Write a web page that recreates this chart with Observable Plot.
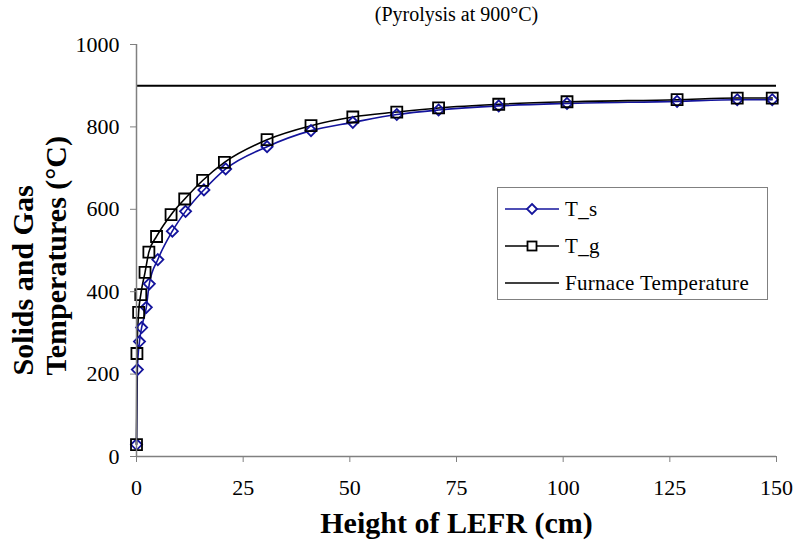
<!DOCTYPE html>
<html>
<head>
<meta charset="utf-8">
<script src="https://cdn.jsdelivr.net/npm/d3@7"></script>
<script src="https://cdn.jsdelivr.net/npm/@observablehq/plot@0.6"></script>
<style>
  html, body { margin: 0; padding: 0; background: #fff; }
  #wrap { position: relative; width: 794px; height: 541px; font-family: "Liberation Serif", "Times New Roman", serif; }
  #wrap svg text { font-family: "Liberation Serif", "Times New Roman", serif; }
  #legend { position: absolute; left: 497px; top: 187px; width: 271px; height: 113px; border: 1px solid #808080; background: #fff; box-sizing: border-box; }
  .item { position: absolute; left: 0; height: 30px; display: flex; align-items: center; }
  .item svg { margin-left: 7px; }
  .item span { margin-left: 6px; font-size: 21px; color: #000; letter-spacing: 0.3px; font-family: "Liberation Serif", "Times New Roman", serif; }
</style>
</head>
<body>
<div id="wrap"></div>
<script>
// Data
const tsX = [0, 0.2, 0.7, 1.2, 2.3, 3.0, 5.0, 8.4, 11.5, 15.8, 20.9, 30.6, 40.9, 50.7, 61.0, 70.8, 84.9, 100.9, 126.7, 140.8, 149.0];
const tsY = [29, 211, 279, 313, 362, 419, 478, 547, 595, 647, 698, 752, 791, 811, 830, 841, 851, 857, 862, 866, 866];
const tgX = [0, 0.1, 0.5, 1.0, 2.0, 2.9, 4.7, 8.1, 11.3, 15.5, 20.6, 30.6, 40.9, 50.7, 61.0, 70.8, 84.9, 100.9, 126.7, 140.8, 149.0];
const tgY = [29, 250, 350, 393, 447, 496, 534, 587, 625, 670, 714, 769, 803, 824, 836, 846, 855, 861, 866, 870, 870];
const furnaceTemp = [900];
const xTicks = [0, 25, 50, 75, 100, 125, 150];
const yTicks = [0, 200, 400, 600, 800, 1000];
const seriesNames = ["T_s", "T_g", "Furnace Temperature"];
const titleText = "(Pyrolysis at 900\u00B0C)";
const xLabel = "Height of LEFR (cm)";
const yLabel = "Solids and Gas\nTemperatures (\u00B0C)";

const FONT = "'Liberation Serif', 'Times New Roman', serif";
const blue = "#14149c";
const ts = tsX.map((x, i) => ({x, y: tsY[i]}));
const tg = tgX.map((x, i) => ({x, y: tgY[i]}));

const chart = Plot.plot({
  width: 794,
  height: 541,
  marginLeft: 136,
  marginRight: 18,
  marginTop: 44,
  marginBottom: 85,
  style: { fontFamily: FONT, background: "#fff" },
  x: { domain: [0, 150] },
  y: { domain: [0, 1000] },
  marks: [
    Plot.ruleY(furnaceTemp, { stroke: "#000", strokeWidth: 2 }),
    Plot.line(ts, { x: "x", y: "y", stroke: blue, strokeWidth: 1.6, curve: "monotone-x" }),
    Plot.line(tg, { x: "x", y: "y", stroke: "#000", strokeWidth: 1.6, curve: "monotone-x" }),
    Plot.dot(ts, { x: "x", y: "y", symbol: "diamond2", r: 5, stroke: blue, strokeWidth: 1.8, fill: "none" }),
    Plot.dot(tg, { x: "x", y: "y", symbol: "square2", r: 7, stroke: "#000", strokeWidth: 1.8, fill: "none" }),
    Plot.ruleX([0], { stroke: "#808080", strokeWidth: 1.5 }),
    Plot.ruleY([0], { stroke: "#808080", strokeWidth: 1.5 }),
    Plot.axisX({ ticks: xTicks, tickSize: 6, tickPadding: 17, stroke: "#808080", fontSize: 22, fontFamily: FONT, fill: "#000", label: null, tickFormat: d => String(d) }),
    Plot.axisY({ ticks: yTicks, tickSize: 6, tickPadding: 11, stroke: "#808080", fontSize: 22, fontFamily: FONT, fill: "#000", label: null, tickFormat: d => String(d) }),
    Plot.text([titleText], { frameAnchor: "top", lineAnchor: "middle", dy: -30, fontSize: 20, fontFamily: FONT, fill: "#000", text: d => d }),
    Plot.text([xLabel], { frameAnchor: "bottom", lineAnchor: "middle", dy: 67, fontSize: 30, fontFamily: FONT, fontWeight: "bold", fill: "#000", text: d => d }),
    Plot.text([yLabel], { frameAnchor: "bottom-left", textAnchor: "start", lineAnchor: "middle", dx: -98, dy: -81, rotate: -90, fontSize: 30, fontFamily: FONT, fontWeight: "bold", fill: "#000", lineHeight: 1.1, text: d => d })
  ]
});
document.getElementById("wrap").appendChild(chart);

// Legend (HTML overlay)
const legend = document.createElement("div");
legend.id = "legend";
const rows = [
  { name: seriesNames[0], color: blue, sym: "diamond" },
  { name: seriesNames[1], color: "#000", sym: "square" },
  { name: seriesNames[2], color: "#000", sym: null }
];
rows.forEach((r, i) => {
  const div = document.createElement("div");
  div.className = "item";
  div.style.top = (6 + i * 37) + "px";
  let sym = "";
  if (r.sym === "diamond") sym = `<path d="M27,10 L32,15 L27,20 L22,15 Z" fill="#fff" stroke="${r.color}" stroke-width="1.8"/>`;
  if (r.sym === "square") sym = `<rect x="22.5" y="10.5" width="9" height="9" fill="#fff" stroke="${r.color}" stroke-width="1.8"/>`;
  div.innerHTML = `<svg width="54" height="30"><line x1="0" y1="15" x2="54" y2="15" stroke="${r.color}" stroke-width="1.6"/>${sym}</svg><span>${r.name}</span>`;
  legend.appendChild(div);
});
document.getElementById("wrap").appendChild(legend);
</script>
</body>
</html>
